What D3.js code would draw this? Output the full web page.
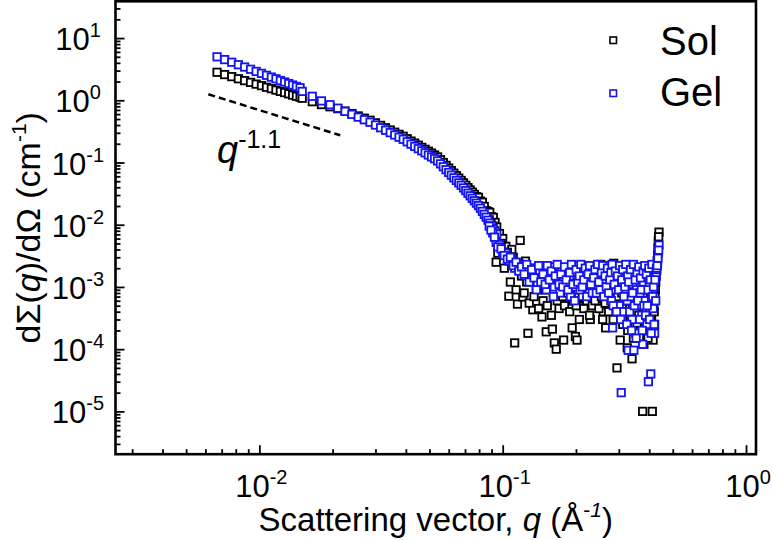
<!DOCTYPE html>
<html><head><meta charset="utf-8">
<script src="https://cdn.jsdelivr.net/npm/d3@7"></script>
<style>body{margin:0;background:#fff}svg{display:block}text{font-family:"Liberation Sans",Arial,sans-serif;fill:#000}</style>
</head><body><svg id="c" width="772" height="540"></svg>
<script>
// ---- data ----
const qLow = [0.0067,0.0072,0.0077,0.0082,0.0087,0.0092,0.0097,0.0102,0.0107,0.0112,0.0117,0.0122,0.0127,0.0132,0.0137,0.0142,0.0147];
const solLow = [2.82,2.59,2.40,2.22,2.07,1.94,1.82,1.72,1.62,1.54,1.46,1.39,1.33,1.27,1.21,1.16,1.12];
const gelLow = [5.00,4.51,4.09,3.73,3.42,3.15,2.91,2.71,2.52,2.36,2.22,2.08,1.97,1.86,1.76,1.67,1.59];

const qMid = [0.0150,0.0165,0.0180,0.0195,0.0210,0.0225,0.0240,0.0255,0.0270,0.0285,
  0.0300,0.0315,0.0330,0.0345,0.0360,0.0375,0.0390,0.0405,0.0420,0.0435,
  0.0450,0.0465,0.0480,0.0495,0.0510,0.0525,0.0540,0.0555,0.0570,0.0585,
  0.0600,0.0615,0.0630,0.0645,0.0660,0.0675,0.0690,0.0705,0.0720,0.0735,
  0.0750,0.0765,0.0780,0.0795,0.0810,0.0825,0.0840,0.0855,0.0870,0.0885,
  0.0900,0.0915,0.0930,0.0945];
const solMid = [1.08,0.950,0.853,0.787,0.733,0.671,0.612,0.560,0.516,0.478,
  0.434,0.395,0.362,0.333,0.307,0.284,0.264,0.241,0.221,0.205,
  0.190,0.175,0.163,0.152,0.142,0.132,0.123,0.111,0.0998,0.0899,
  0.0814,0.0740,0.0674,0.0615,0.0561,0.0515,0.0471,0.0430,0.0395,0.0362,
  0.0334,0.0307,0.0283,0.0275,0.0240,0.0230,0.0197,0.0168,0.0163,0.0158,
  0.0134,0.0131,0.0109,0.0092];
const gelMid = [1.39,1.16,0.978,0.850,0.747,0.664,0.594,0.536,0.487,0.444,
  0.400,0.362,0.330,0.302,0.277,0.255,0.236,0.215,0.197,0.181,
  0.167,0.154,0.143,0.132,0.123,0.115,0.106,0.0951,0.0855,0.0767,
  0.0692,0.0626,0.0567,0.0515,0.0470,0.0430,0.0390,0.0353,0.0321,0.0292,
  0.0266,0.0243,0.0222,0.0203,0.0184,0.0164,0.0147,0.0132,0.0118,0.0106,
  0.0096,0.0086,0.0078,0.0071];

const qHigh = [0.088,0.091,0.094,0.097,0.100,0.103,0.106,0.109,0.112,0.115,
  0.118,0.121,0.124,0.127,0.130,0.133,0.136,0.139,0.142,0.145,
  0.148,0.151,0.154,0.157,0.160,0.163,0.166,0.169,0.172,0.175,
  0.178,0.181,0.184,0.187,0.190,0.193,0.196,0.199,0.202,0.205,
  0.208,0.211,0.214,0.217,0.220,0.223,0.226,0.229,0.232,0.235,
  0.238,0.241,0.244,0.247,0.250,0.253,0.256,0.259,0.262,0.265,
  0.268,0.271,0.274,0.277,0.280,0.283,0.286,0.289,0.292,0.295,
  0.298,0.301,0.304,0.307,0.310,0.313,0.316,0.319,0.322,0.325,
  0.328,0.331,0.334,0.337,0.340,0.343,0.346,0.349,0.352,0.355,
  0.358,0.361,0.364,0.367,0.370,0.373,0.376,0.379,0.382,0.385,
  0.388,0.391,0.394,0.397,0.400,0.403,0.406,0.409,0.412,0.415,
  0.418,0.421,0.424,0.427,0.430,0.433,0.436,0.439];
const solHigh = [12.0e-3,9.5e-3,2.5e-3,7.2e-3,6.0e-3,4.5e-3,0.71e-3,4.0e-3,0.126e-3,0.53e-3,
  5.6e-3,0.69e-3,2.6e-3,0.18e-3,1.8e-3,0.43e-3,2.0e-3,0.9e-3,1.5e-3,0.33e-3,
  1.3e-3,0.19e-3,1.0e-3,1.6e-3,0.21e-3,0.126e-3,0.10e-3,0.7e-3,1.2e-3,0.9e-3,
  0.14e-3,1.1e-3,0.6e-3,1.5e-3,0.8e-3,0.22e-3,1.0e-3,0.16e-3,0.14e-3,0.7e-3,
  1.2e-3,0.5e-3,0.9e-3,2.2e-3,0.6e-3,1.0e-3,0.8e-3,0.30e-3,1.3e-3,0.7e-3,
  0.9e-3,1.1e-3,0.5e-3,1.3e-3,0.8e-3,2.3e-3,1.0e-3,0.4e-3,1.2e-3,0.22e-3,
  0.7e-3,1.0e-3,0.5e-3,1.3e-3,0.8e-3,0.4e-3,2.4e-3,0.6e-3,0.9e-3,0.05e-3,
  1.2e-3,0.3e-3,0.14e-3,0.8e-3,2.0e-3,1.0e-3,0.5e-3,0.9e-3,0.4e-3,0.105e-3,
  0.6e-3,1.1e-3,0.3e-3,0.8e-3,0.07e-3,0.5e-3,1.8e-3,0.25e-3,0.7e-3,0.35e-3,
  0.9e-3,0.2e-3,0.6e-3,0.3e-3,0.8e-3,0.5e-3,0.01e-3,0.4e-3,0.25e-3,0.7e-3,
  0.3e-3,0.16e-3,0.8e-3,0.45e-3,0.6e-3,0.2e-3,0.9e-3,0.35e-3,0.01e-3,0.14e-3,
  0.5e-3,0.25e-3,0.9e-3,1.5e-3,2.2e-3,3.2e-3,5.5e-3,7.6e-3];
const gelHigh = [9.5e-3,7.4e-3,5.2e-3,4.8e-3,3.6e-3,3.5e-3,2.6e-3,2.9e-3,2.0e-3,2.3e-3,
  1.9e-3,2.2e-3,1.5e-3,1.8e-3,1.3e-3,2.0e-3,1.6e-3,1.1e-3,1.7e-3,1.4e-3,
  1.9e-3,0.9e-3,1.5e-3,1.2e-3,2.1e-3,1.0e-3,1.6e-3,1.3e-3,0.8e-3,1.8e-3,
  1.4e-3,1.1e-3,2.0e-3,1.2e-3,0.7e-3,1.5e-3,1.7e-3,1.0e-3,1.3e-3,2.2e-3,
  0.9e-3,1.4e-3,1.6e-3,1.1e-3,1.9e-3,1.2e-3,0.8e-3,1.5e-3,1.3e-3,2.0e-3,
  1.1e-3,1.7e-3,1.0e-3,1.4e-3,2.1e-3,1.2e-3,0.9e-3,1.6e-3,1.3e-3,1.8e-3,
  1.0e-3,1.5e-3,2.2e-3,1.2e-3,0.6e-3,0.22e-3,1.3e-3,0.9e-3,1.9e-3,1.1e-3,
  1.4e-3,0.5e-3,2.0e-3,0.02e-3,1.2e-3,0.4e-3,1.6e-3,0.8e-3,1.8e-3,0.6e-3,
  0.096e-3,1.5e-3,0.7e-3,2.1e-3,0.3e-3,1.1e-3,0.096e-3,1.7e-3,0.18e-3,0.9e-3,
  1.3e-3,0.5e-3,2.0e-3,0.8e-3,1.6e-3,0.35e-3,0.12e-3,1.2e-3,0.6e-3,1.9e-3,
  0.9e-3,0.25e-3,1.5e-3,0.03e-3,1.1e-3,2.2e-3,0.04e-3,0.7e-3,1.4e-3,0.45e-3,
  1.0e-3,0.18e-3,1.7e-3,1.5e-3,1.9e-3,2.5e-3,3.5e-3,4.7e-3];

const qHigh2 = [0.0895,0.0925,0.0955,0.0985,0.1015,0.1045,0.1075,0.1105,0.1135,0.1165,
  0.1195,0.1225,0.1255,0.1285,0.1315,0.1345,0.1375,0.1405,0.1435,0.1465,
  0.1495,0.1525,0.1555,0.1585,0.1615,0.1645,0.1675,0.1705,0.1735,0.1765,
  0.1795,0.1825,0.1855,0.1885,0.1915,0.1945,0.1975,0.2005,0.2035,0.2065,
  0.2095,0.2125,0.2155,0.2185,0.2215,0.2245,0.2275,0.2305,0.2335,0.2365,
  0.2395,0.2425,0.2455,0.2485,0.2515,0.2545,0.2575,0.2605,0.2635,0.2665,
  0.2695,0.2725,0.2755,0.2785,0.2815,0.2845,0.2875,0.2905,0.2935,0.2965,
  0.2995,0.3025,0.3055,0.3085,0.3115,0.3145,0.3175,0.3205,0.3235,0.3265,
  0.3295,0.3325,0.3355,0.3385,0.3415,0.3445,0.3475,0.3505,0.3535,0.3565,
  0.3595,0.3625,0.3655,0.3685,0.3715,0.3745,0.3775,0.3805,0.3835,0.3865,
  0.3895,0.3925,0.3955,0.3985,0.4015,0.4045,0.4075,0.4105,0.4135,0.4165,
  0.4195,0.4225,0.4255,0.4285,0.4315,0.4345,0.4375];
const solHigh2 = [10.5e-3,8.0e-3,3.5e-3,5.0e-3,2.0e-3,3.6e-3,1.2e-3,3.0e-3,0.9e-3,2.4e-3,
  1.5e-3,0.8e-3,1.2e-3,0.55e-3,1.6e-3,0.7e-3,1.0e-3,0.45e-3,1.3e-3,0.6e-3,
  0.9e-3,0.5e-3,1.4e-3,0.35e-3,0.8e-3,1.1e-3,0.6e-3,0.45e-3,1.5e-3,0.7e-3,
  0.5e-3,1.2e-3,0.8e-3,0.4e-3,1.0e-3,0.6e-3,1.4e-3,0.5e-3,0.9e-3,0.3e-3,
  1.1e-3,0.7e-3,0.45e-3,1.5e-3,0.6e-3,0.9e-3,0.35e-3,1.2e-3,0.5e-3,1.0e-3,
  0.6e-3,1.4e-3,0.8e-3,0.45e-3,1.0e-3,0.7e-3,0.3e-3,1.2e-3,0.55e-3,0.9e-3,
  1.1e-3,0.4e-3,0.8e-3,0.6e-3,1.4e-3,0.3e-3,0.9e-3,0.5e-3,1.2e-3,0.7e-3,
  0.5e-3,1.0e-3,0.35e-3,0.8e-3,0.25e-3,1.3e-3,0.6e-3,0.4e-3,1.0e-3,0.2e-3,
  0.9e-3,0.45e-3,0.3e-3,1.1e-3,0.5e-3,0.15e-3,0.8e-3,0.4e-3,1.2e-3,0.25e-3,
  0.6e-3,0.35e-3,1.0e-3,0.2e-3,0.5e-3,0.8e-3,0.3e-3,0.12e-3,0.7e-3,0.4e-3,
  0.25e-3,0.6e-3,0.15e-3,1.0e-3,0.4e-3,0.7e-3,0.3e-3,0.5e-3,0.2e-3,0.8e-3,
  0.4e-3,0.7e-3,1.2e-3,1.8e-3,2.6e-3,4.2e-3,6.4e-3];
const gelHigh2 = [8.2e-3,6.3e-3,4.4e-3,4.1e-3,3.2e-3,2.8e-3,3.0e-3,2.2e-3,2.5e-3,1.8e-3,
  2.1e-3,1.6e-3,2.3e-3,1.2e-3,1.9e-3,1.4e-3,0.9e-3,2.2e-3,1.2e-3,1.6e-3,
  1.1e-3,2.2e-3,1.3e-3,1.8e-3,0.7e-3,1.5e-3,2.3e-3,1.1e-3,1.6e-3,1.0e-3,
  2.1e-3,1.3e-3,0.9e-3,1.7e-3,2.3e-3,1.1e-3,0.6e-3,1.9e-3,1.2e-3,1.5e-3,
  2.3e-3,1.0e-3,1.3e-3,2.0e-3,0.7e-3,1.6e-3,2.2e-3,1.1e-3,0.8e-3,1.4e-3,
  1.9e-3,0.8e-3,2.3e-3,1.2e-3,0.9e-3,1.7e-3,2.2e-3,0.7e-3,1.5e-3,1.0e-3,
  2.0e-3,0.8e-3,1.3e-3,1.7e-3,2.3e-3,0.5e-3,1.1e-3,1.8e-3,0.4e-3,1.5e-3,
  0.9e-3,2.2e-3,0.3e-3,1.3e-3,1.9e-3,0.7e-3,1.0e-3,2.3e-3,0.25e-3,1.5e-3,
  1.2e-3,0.4e-3,1.9e-3,0.2e-3,0.8e-3,2.3e-3,0.5e-3,1.3e-3,0.15e-3,1.7e-3,
  0.6e-3,2.1e-3,0.3e-3,1.4e-3,0.9e-3,0.2e-3,1.8e-3,0.5e-3,2.2e-3,0.35e-3,
  1.6e-3,0.5e-3,0.9e-3,2.0e-3,0.3e-3,1.3e-3,0.18e-3,2.3e-3,0.7e-3,1.0e-3,
  0.25e-3,1.3e-3,0.6e-3,2.0e-3,2.2e-3,2.9e-3,3.9e-3];

const guideQ = [0.00617, 0.0215];
const guideI = [1.25, 0.274];

const seriesNames = ["Sol", "Gel"];
const seriesColors = ["#000000", "#1414f0"];
const xTickExps = [-2, -1, 0];
const yTickExps = [-5, -4, -3, -2, -1, 0, 1];
const minorMult = [2,3,4,5,6,7,8,9];

// ---- drawing ----
const svg = d3.select("#c");
const L = 115.5, R = 756, T = 1.3, B = 454.2;
const x = d3.scaleLog().domain([0.002563, 1.099]).range([L, R]);
const y = d3.scaleLog().domain([2.05e-6, 39]).range([B, T]);

function minorVals(scale) {
  const [a, b] = scale.domain();
  const out = [];
  for (let e = Math.floor(Math.log10(a)); e <= Math.ceil(Math.log10(b)); e++)
    for (const m of minorMult) { const v = m * Math.pow(10, e); if (v >= a && v <= b) out.push(v); }
  return out;
}
const xMajor = xTickExps.map(e => Math.pow(10, e));
const yMajor = yTickExps.map(e => Math.pow(10, e));

function styleAxis(g) { g.select(".domain").remove(); g.selectAll("text").remove(); g.selectAll("line").attr("stroke", "#000").attr("stroke-width", 1.8); }
svg.append("g").attr("transform", `translate(0,${B})`).call(d3.axisBottom(x).tickValues(xMajor).tickSize(-9).tickFormat("")).call(styleAxis);
svg.append("g").attr("transform", `translate(0,${B})`).call(d3.axisBottom(x).tickValues(minorVals(x)).tickSize(-5).tickFormat("")).call(styleAxis);
svg.append("g").attr("transform", `translate(${L},0)`).call(d3.axisLeft(y).tickValues(yMajor).tickSize(-9).tickFormat("")).call(styleAxis);
svg.append("g").attr("transform", `translate(${L},0)`).call(d3.axisLeft(y).tickValues(minorVals(y)).tickSize(-5).tickFormat("")).call(styleAxis);

// tick labels
const xl = svg.append("g").selectAll("text").data(xTickExps).join("text")
  .attr("x", e => x(Math.pow(10, e)) + 2).attr("y", 497).attr("text-anchor", "middle").attr("font-size", 31);
xl.append("tspan").text("10");
xl.append("tspan").attr("font-size", 20).attr("dy", -13).text(e => String(e));

const yl = svg.append("g").selectAll("text").data(yTickExps).join("text")
  .attr("x", 78).attr("y", e => y(Math.pow(10, e)) + 12).attr("text-anchor", "middle").attr("font-size", 31);
yl.append("tspan").text("10");
yl.append("tspan").attr("font-size", 20).attr("dy", -13).text(e => String(e));

// axis titles
const xt = svg.append("text").attr("x", (L + R) / 2).attr("y", 531).attr("text-anchor", "middle").attr("font-size", 33);
xt.append("tspan").text("Scattering vector, ");
xt.append("tspan").attr("font-style", "italic").text("q");
xt.append("tspan").text(" (Å");
xt.append("tspan").attr("font-size", 21).attr("dy", -14).text("-");
xt.append("tspan").attr("font-size", 21).attr("font-style", "italic").text("1");
xt.append("tspan").attr("dy", 14).text(")");

const yt = svg.append("text").attr("transform", `translate(40,${(T + B) / 2}) rotate(-90)`).attr("text-anchor", "middle").attr("font-size", 34);
yt.append("tspan").text("dΣ(");
yt.append("tspan").attr("font-style", "italic").text("q");
yt.append("tspan").text(")/dΩ (cm");
yt.append("tspan").attr("font-size", 21).attr("dy", -14).text("-1");
yt.append("tspan").attr("dy", 14).text(")");

// guide line q^-1.1
svg.append("path").datum(guideQ.map((q, i) => [q, guideI[i]]))
  .attr("d", d3.line().x(d => x(d[0])).y(d => y(d[1])))
  .attr("fill", "none").attr("stroke", "#000").attr("stroke-width", 2.5).attr("stroke-dasharray", "7,4");
const gt = svg.append("text").attr("x", 217).attr("y", 163).attr("font-size", 38);
gt.append("tspan").attr("font-style", "italic").text("q");
gt.append("tspan").attr("font-size", 25).attr("dy", -15).text("-1.1");

// data points
const qAll = qLow.concat(qMid, qHigh, qHigh2);
const sets = [solLow.concat(solMid, solHigh, solHigh2), gelLow.concat(gelMid, gelHigh, gelHigh2)];
sets.forEach((vals, si) => {
  svg.append("g").selectAll("rect").data(qAll.map((q, i) => ({ q, v: vals[i] }))).join("rect")
    .attr("x", d => x(d.q) - 3.7).attr("y", d => y(d.v) - 3.7).attr("width", 7.4).attr("height", 7.4)
    .attr("fill", "#fff").attr("stroke", seriesColors[si]).attr("stroke-width", 1.8);
});

// legend
const lg = svg.append("g").selectAll("g").data(seriesNames).join("g");
lg.append("rect").attr("x", 610).attr("y", (d, i) => 37 + i * 53).attr("width", 6.5).attr("height", 6.5)
  .attr("fill", "#fff").attr("stroke", (d, i) => seriesColors[i]).attr("stroke-width", 1.6);
lg.append("text").attr("x", 660).attr("y", (d, i) => 55 + i * 51).attr("font-size", 40).text(d => d);

// frame
svg.append("rect").attr("x", L).attr("y", T).attr("width", R - L).attr("height", B - T)
  .attr("fill", "none").attr("stroke", "#000").attr("stroke-width", 2.6);
</script></body></html>
